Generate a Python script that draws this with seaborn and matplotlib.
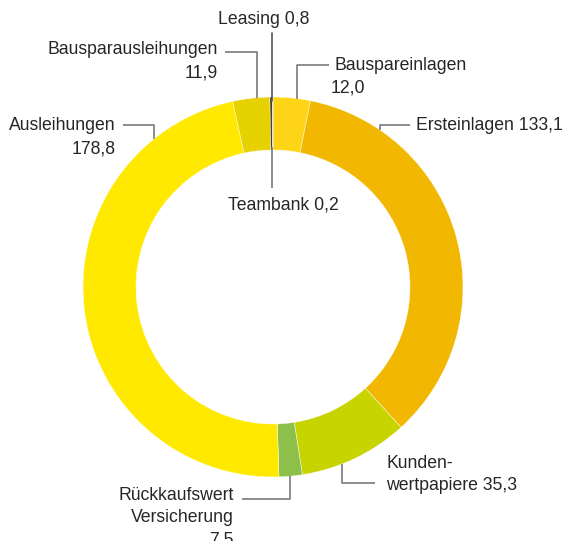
import matplotlib
matplotlib.use("Agg")
import matplotlib.pyplot as plt
import seaborn as sns
import numpy as np

sns.set_theme(style="white")
plt.rcParams['font.family'] = ['Liberation Sans', 'DejaVu Sans']

# data (clockwise from top)
categories = ["Bauspareinlagen", "Ersteinlagen", "Kundenwertpapiere",
              "Rückkaufswert Versicherung", "Ausleihungen",
              "Bausparausleihungen", "Leasing", "Teambank"]
values = [12.0, 133.1, 35.3, 7.5, 178.8, 11.9, 0.8, 0.2]
colors = ["#FDD516", "#F2B700", "#C8D400", "#8CC04A", "#FFE900",
          "#E6D200", "#4B4421", "#9A9A9A"]

W, H = 563, 541
fig = plt.figure(figsize=(W / 100, H / 100), dpi=100)
ax = fig.add_axes([0, 0, 1, 1])

cx, cy, R = 273, 287, 190
width = 53
# y axis is inverted below: startangle -90 = top, counterclock=True = visually clockwise
ax.pie(values, colors=colors, startangle=-90, counterclock=True,
       center=(cx, cy), radius=R, frame=True,
       wedgeprops=dict(width=width, edgecolor="white", linewidth=0.3))
ax.set_xlim(0, W)
ax.set_ylim(H, 0)
ax.set_aspect("equal")
ax.axis("off")

line_kw = dict(color="#7a7a7a", lw=1.2, solid_capstyle="butt")
txt_kw = dict(fontsize=12.7, color="#262626")

def ring_top(x, r=R):
    return cy - np.sqrt(r * r - (x - cx) ** 2)

def ring_bot(x, r=R):
    return cy + np.sqrt(r * r - (x - cx) ** 2)

# Leasing
ax.plot([272, 272], [33, ring_top(272) + 4], color="#555", lw=1.2)
ax.text(264, 20, "Leasing 0,8", ha="center", va="center", **txt_kw)

# Teambank
ax.plot([272, 272], [ring_top(272, R - width) - 3, 188], **line_kw)
ax.text(283, 205, "Teambank 0,2", ha="center", va="center", **txt_kw)

# Bausparausleihungen
ax.plot([225, 257, 257], [52, 52, ring_top(257)], **line_kw)
ax.text(218, 50, "Bausparausleihungen", ha="right", va="center", **txt_kw)
ax.text(218, 73, "11,9", ha="right", va="center", **txt_kw)

# Bauspareinlagen
ax.plot([329, 297, 297], [65, 65, ring_top(297)], **line_kw)
ax.text(335, 65, "Bauspareinlagen", ha="left", va="center", **txt_kw)
ax.text(331, 88, "12,0", ha="left", va="center", **txt_kw)

# Ersteinlagen
ax.plot([410, 380, 380], [125, 125, ring_top(380)], **line_kw)
ax.text(416, 125, "Ersteinlagen 133,1", ha="left", va="center", **txt_kw)

# Ausleihungen
ax.plot([123, 154, 154], [125, 125, ring_top(154)], **line_kw)
ax.text(116, 126, "Ausleihungen", ha="right", va="center", **txt_kw)
ax.text(116, 149, "178,8", ha="right", va="center", **txt_kw)

# Rückkaufswert
ax.plot([242, 290, 290], [499, 499, ring_bot(290)], **line_kw)
ax.text(234, 496, "Rückkaufswert", ha="right", va="center", **txt_kw)
ax.text(234, 518, "Versicherung", ha="right", va="center", **txt_kw)
ax.text(234, 540, "7,5", ha="right", va="center", **txt_kw)

# Kundenwertpapiere
ax.plot([375, 342, 342], [483, 483, ring_bot(342)], **line_kw)
ax.text(386, 463, "Kunden-", ha="left", va="center", **txt_kw)
ax.text(386, 486, "wertpapiere 35,3", ha="left", va="center", **txt_kw)

fig.savefig("out.png", dpi=100, facecolor="white")
